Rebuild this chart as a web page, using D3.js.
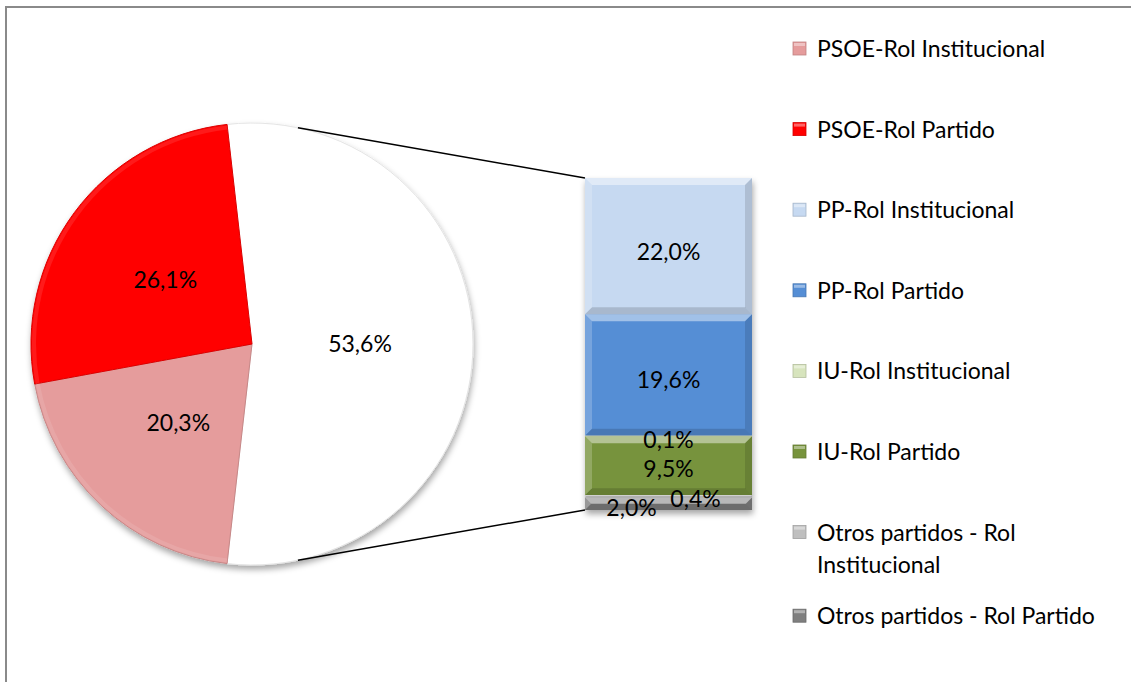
<!DOCTYPE html>
<html>
<head>
<meta charset="utf-8">
<script src="https://cdn.jsdelivr.net/npm/d3@7"></script>
<style>
  html, body { margin: 0; padding: 0; background: #fff; }
  svg { display: block; }
  text { font-family: Lato, "Open Sans", sans-serif; fill: #000; }
</style>
</head>
<body>
<div id="chartDiv"></div>
<script>
'use strict';

// --- data ---
const categories = [
    "PSOE-Rol Institucional",
    "PSOE-Rol Partido",
    "PP-Rol Institucional",
    "PP-Rol Partido",
    "IU-Rol Institucional",
    "IU-Rol Partido",
    "Otros partidos - Rol Institucional",
    "Otros partidos - Rol Partido"
];
const values = [20.3, 26.1, 22.0, 19.6, 0.1, 9.5, 0.4, 2.0];
const colors = ["#e59c9c", "#ff0000", "#c6d9f1", "#558ed5", "#d7e4bd", "#77933c", "#bfbfbf", "#7f7f7f"];

// first two go in the pie, the rest are split out into the bar
const PIE_COUNT = 2;

const W = 1131, H = 682;
const fmt = v => d3.format(".1f")(v).replace(".", ",") + "%";

const svg = d3.select("#chartDiv").append("svg")
    .attr("width", W)
    .attr("height", H);

const defs = svg.append("defs");
defs.append("filter")
    .attr("id", "shadow")
    .attr("x", "-10%").attr("y", "-10%").attr("width", "120%").attr("height", "125%")
    .append("feDropShadow")
    .attr("dx", 1).attr("dy", 4).attr("stdDeviation", 3)
    .attr("flood-color", "#000").attr("flood-opacity", 0.35);

// chart frame (only top and left edges are visible in the picture)
svg.append("rect")
    .attr("x", 6).attr("y", 7)
    .attr("width", W + 20).attr("height", H + 20)
    .attr("fill", "none")
    .attr("stroke", "#8a8a8a")
    .attr("stroke-width", 2);

// --- pie ---
const pieCx = 252, pieCy = 344, pieR = 221;
const otherValue = d3.sum(values.slice(PIE_COUNT));
const pieData = [
    { name: "other", value: otherValue, color: "#ffffff" },
    { name: categories[0], value: values[0], color: colors[0] },
    { name: categories[1], value: values[1], color: colors[1] }
];
const total = d3.sum(pieData, d => d.value);
const startA = Math.PI / 2 - (otherValue / total) * Math.PI;

const pie = d3.pie()
    .sort(null)
    .value(d => d.value)
    .startAngle(startA)
    .endAngle(startA + 2 * Math.PI);

const arc = d3.arc().innerRadius(0).outerRadius(pieR);
const labelArc = d3.arc().innerRadius(108).outerRadius(108);

const pieG = svg.append("g")
    .attr("transform", "translate(" + pieCx + "," + pieCy + ")");

pieG.append("g")
    .attr("filter", "url(#shadow)")
    .selectAll("path")
    .data(pie(pieData))
    .join("path")
    .attr("d", arc)
    .attr("fill", d => d.data.color)
    .attr("stroke", d => d.data.name === "other" ? "#e4e4e4" : d3.color(d.data.color).darker(0.4))
    .attr("stroke-width", 1);

// soft bevel highlight along the rim
pieG.append("g")
    .selectAll("path")
    .data(pie(pieData).filter(d => d.data.name !== "other"))
    .join("path")
    .attr("d", d3.arc().innerRadius(pieR - 5).outerRadius(pieR - 1))
    .attr("fill", "#fff")
    .attr("opacity", 0.1);

pieG.selectAll("text.pl")
    .data(pie(pieData))
    .join("text")
    .attr("class", "pl")
    .attr("transform", d => "translate(" + labelArc.centroid(d) + ")")
    .attr("text-anchor", "middle")
    .attr("dy", "0.35em")
    .style("font-size", "23px")
    .text(d => fmt(d.data.value));

// --- bar of the split-out part ---
const barX = 585, barW = 167, barTop = 178, barBottom = 510;
const barCats = categories.slice(PIE_COUNT);
const barVals = values.slice(PIE_COUNT);
const barCols = colors.slice(PIE_COUNT);

const yScale = d3.scaleLinear()
    .domain([0, otherValue])
    .range([barBottom, barTop]);

// stacked from the top: first item on top
let acc = otherValue;
const segs = barVals.map((v, i) => {
    const top = acc;
    acc -= v;
    return { name: barCats[i], value: v, color: barCols[i], y0: acc, y1: top };
});

// connector lines from the pie rim to the bar corners
const a1 = 12 * Math.PI / 180, a2 = 168 * Math.PI / 180;
const connectors = [
    [pieCx + pieR * Math.sin(a1), pieCy - pieR * Math.cos(a1), barX, yScale(otherValue)],
    [pieCx + pieR * Math.sin(a2), pieCy - pieR * Math.cos(a2), barX, yScale(0)]
];
svg.append("g")
    .selectAll("line")
    .data(connectors)
    .join("line")
    .attr("x1", d => d[0]).attr("y1", d => d[1])
    .attr("x2", d => d[2]).attr("y2", d => d[3])
    .attr("stroke", "#000")
    .attr("stroke-width", 1.5);

const barG = svg.append("g").attr("filter", "url(#shadow)");
barG.selectAll("rect")
    .data(segs)
    .join("rect")
    .attr("x", barX)
    .attr("y", d => yScale(d.y1))
    .attr("width", barW)
    .attr("height", d => Math.max(0.6, yScale(d.y0) - yScale(d.y1)))
    .attr("fill", d => d.color);

// simple bevel: light top/left, dark bottom/right
const bevel = 7;
const bevelG = svg.append("g");
segs.forEach(d => {
    const x0 = barX, x1 = barX + barW;
    const t = yScale(d.y1), b = yScale(d.y0);
    const e = Math.min(bevel, (b - t) / 2);
    if (e < 1) return;
    const polys = [
        { p: [[x0, t], [x1, t], [x1 - e, t + e], [x0 + e, t + e]], c: "#fff", o: 0.45 },
        { p: [[x0, t], [x0 + e, t + e], [x0 + e, b - e], [x0, b]], c: "#fff", o: 0.2 },
        { p: [[x1, t], [x1, b], [x1 - e, b - e], [x1 - e, t + e]], c: "#000", o: 0.12 },
        { p: [[x0, b], [x0 + e, b - e], [x1 - e, b - e], [x1, b]], c: "#000", o: 0.15 }
    ];
    bevelG.selectAll(null)
        .data(polys)
        .enter()
        .append("polygon")
        .attr("points", q => q.p.map(pt => pt.join(",")).join(" "))
        .attr("fill", q => q.c)
        .attr("opacity", q => q.o);
});

// label nudges so the tiny segments do not collide (as in the picture)
const labelNudge = [[0, 6], [0, 5], [0, 4], [0, 3], [27, 3], [-37, 4]];
svg.append("g")
    .selectAll("text")
    .data(segs)
    .join("text")
    .attr("x", (d, i) => barX + barW / 2 + labelNudge[i][0])
    .attr("y", (d, i) => yScale((d.y0 + d.y1) / 2) + labelNudge[i][1])
    .attr("text-anchor", "middle")
    .attr("dy", "0.35em")
    .style("font-size", "23px")
    .text(d => fmt(d.value));

// --- legend ---
const legendX = 793, legendTextX = 817, legendY0 = 49, legendStep = 80.6;
const legendLines = [
    ["PSOE-Rol Institucional"],
    ["PSOE-Rol Partido"],
    ["PP-Rol Institucional"],
    ["PP-Rol Partido"],
    ["IU-Rol Institucional"],
    ["IU-Rol Partido"],
    ["Otros partidos - Rol", "Institucional"],
    ["Otros partidos - Rol Partido"]
];

const leg = svg.append("g")
    .selectAll("g")
    .data(categories)
    .join("g")
    .attr("transform", (d, i) => "translate(0," + (legendY0 + i * legendStep + (i === 7 ? 3 : 0)) + ")");

leg.append("rect")
    .attr("x", legendX).attr("y", -7)
    .attr("width", 13).attr("height", 13)
    .attr("fill", (d, i) => colors[i])
    .attr("stroke", (d, i) => d3.color(colors[i]).darker(0.5))
    .attr("stroke-width", 0.8);

leg.append("rect")
    .attr("x", legendX + 1).attr("y", -6)
    .attr("width", 11).attr("height", 3)
    .attr("fill", "#fff")
    .attr("opacity", 0.4);

leg.append("text")
    .attr("x", legendTextX)
    .style("font-size", "23px")
    .selectAll("tspan")
    .data((d, i) => legendLines[i])
    .join("tspan")
    .attr("x", legendTextX)
    .attr("y", (d, j) => j * 32)
    .attr("dy", "0.35em")
    .text(d => d);
</script>
</body>
</html>
